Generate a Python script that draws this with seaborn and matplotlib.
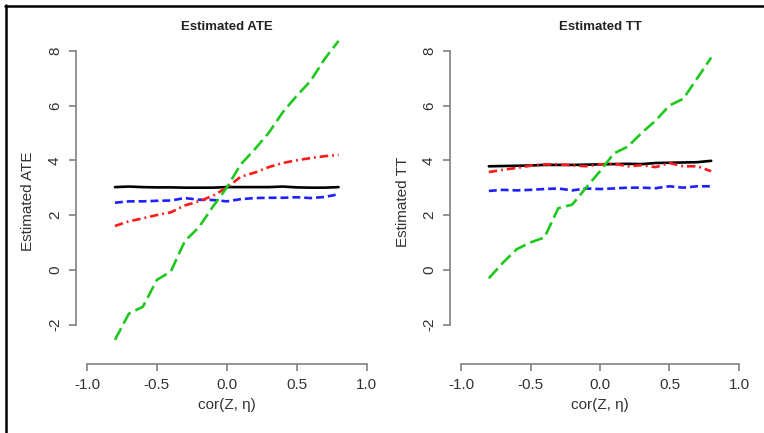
import numpy as np
import pandas as pd
import matplotlib
matplotlib.use("Agg")
import matplotlib.pyplot as plt
from matplotlib.lines import Line2D
import seaborn as sns

# correlation grid used in the simulation
rho = [-0.8, -0.7, -0.6, -0.5, -0.4, -0.3, -0.2, -0.1, 0.0,
       0.1, 0.2, 0.3, 0.4, 0.5, 0.6, 0.7, 0.8]

# Estimated ATE
ate_black = [3.02, 3.04, 3.02, 3.01, 3.01, 3.0, 3.0, 3.0, 3.02,
             3.02, 3.02, 3.02, 3.04, 3.01, 3.0, 3.0, 3.02]
ate_blue = [2.45, 2.5, 2.5, 2.52, 2.53, 2.62, 2.56, 2.55, 2.5,
            2.58, 2.62, 2.63, 2.63, 2.65, 2.62, 2.66, 2.76]
ate_red = [1.6, 1.77, 1.88, 2.0, 2.1, 2.35, 2.5, 2.7, 3.0,
           3.4, 3.55, 3.75, 3.9, 4.0, 4.08, 4.15, 4.2]
ate_green = [-2.56, -1.6, -1.35, -0.37, -0.06, 1.05, 1.55, 2.3, 3.0,
             3.85, 4.4, 5.0, 5.75, 6.35, 6.9, 7.7, 8.36]

# Estimated TT
tt_black = [3.78, 3.79, 3.8, 3.81, 3.83, 3.83, 3.83, 3.84, 3.85,
            3.86, 3.87, 3.86, 3.9, 3.91, 3.92, 3.93, 3.98]
tt_blue = [2.88, 2.92, 2.9, 2.92, 2.95, 2.97, 2.9, 2.97, 2.95,
           2.97, 3.0, 3.0, 2.98, 3.05, 3.0, 3.05, 3.05]
tt_red = [3.57, 3.65, 3.72, 3.8, 3.85, 3.85, 3.82, 3.78, 3.85,
          3.88, 3.78, 3.82, 3.75, 3.9, 3.78, 3.78, 3.6]
tt_green = [-0.31, 0.25, 0.75, 1.0, 1.18, 2.25, 2.38, 3.0, 3.6,
            4.25, 4.5, 5.0, 5.45, 6.0, 6.25, 7.0, 7.75]

series = ["s1", "s2", "s3", "s4"]
palette = {"s1": "black", "s2": "#1f1fff", "s3": "#ff1a1a", "s4": "#1ec81e"}
dashes = {"s1": "", "s2": (3, 1.5), "s3": (3.2, 1.5, 0.7, 1.5), "s4": (5, 2)}


def long_frame(vals):
    rows = []
    for name, v in zip(series, vals):
        for r, y in zip(rho, v):
            rows.append({"rho": r, "value": y, "est": name})
    return pd.DataFrame(rows)


def r_style_panel(ax, df, title, ylab, ylab_x):
    sns.lineplot(data=df, x="rho", y="value", hue="est", style="est",
                 palette=palette, dashes=dashes, linewidth=1.9,
                 legend=False, ax=ax)
    ax.set_xlim(-1.08, 1.08)
    ax.set_ylim(-3.44, 8.44)
    ax.set_xticks([-1.0, -0.5, 0.0, 0.5, 1.0])
    ax.set_xticklabels(["-1.0", "-0.5", "0.0", "0.5", "1.0"])
    ax.set_yticks([-2, 0, 2, 4, 6, 8])
    ax.set_yticklabels(["-2", "0", "2", "4", "6", "8"], rotation=90, va="center")
    for s in ["top", "right"]:
        ax.spines[s].set_visible(False)
    ax.spines["left"].set_bounds(-2, 8)
    ax.spines["bottom"].set_bounds(-1, 1)
    for s in ["left", "bottom"]:
        ax.spines[s].set_color("#808080")
        ax.spines[s].set_linewidth(1.2)
    ax.tick_params(bottom=True, left=True, direction="out", length=5,
                   width=1.2, color="#808080",
                   labelsize=11, labelcolor="#333333", pad=5)
    ax.tick_params(axis="y", pad=5)
    ax.set_title(title, fontsize=9.5, fontweight="bold", color="#222222", pad=6)
    ax.set_xlabel("cor(Z, η)", fontsize=11, color="#333333")
    ax.xaxis.set_label_coords(0.5, -0.126)
    ax.xaxis.label.set_verticalalignment("center")
    ax.set_ylabel(ylab, fontsize=11, color="#333333")
    ax.yaxis.set_label_coords(ylab_x, 0.5)
    ax.yaxis.label.set_verticalalignment("center")
    ax.set_facecolor("white")


sns.set_style("white")
plt.rcParams["font.family"] = ["Liberation Sans", "DejaVu Sans"]

fig = plt.figure(figsize=(7.64, 4.33), dpi=100)
ax1 = fig.add_axes([0.0992, 0.1594, 0.3952, 0.7512])
ax2 = fig.add_axes([0.5889, 0.1594, 0.3929, 0.7512])

r_style_panel(ax1, long_frame([ate_black, ate_blue, ate_red, ate_green]),
              "Estimated ATE", "Estimated ATE", -0.158)
r_style_panel(ax2, long_frame([tt_black, tt_blue, tt_red, tt_green]),
              "Estimated TT", "Estimated TT", -0.156)

# frame of the screenshot (top and left edge only)
fig.add_artist(Line2D([5 / 764, 1.0], [1 - 5.5 / 433, 1 - 5.5 / 433],
                      transform=fig.transFigure, color="black", linewidth=1.8))
fig.add_artist(Line2D([5.5 / 764, 5.5 / 764], [0.0, 1 - 5 / 433],
                      transform=fig.transFigure, color="black", linewidth=1.8))

fig.savefig("out.png", dpi=100)
